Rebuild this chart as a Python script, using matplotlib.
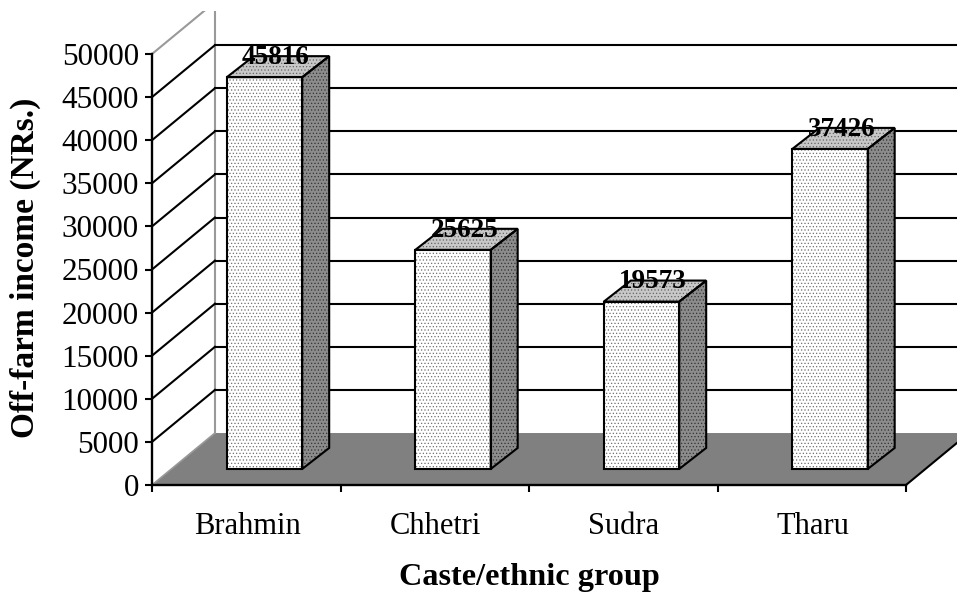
import matplotlib
matplotlib.use("Agg")
from matplotlib import pyplot as plt
from matplotlib.patches import Polygon, Rectangle

plt.rcParams["font.family"] = ["Liberation Serif", "DejaVu Serif"]
plt.rcParams["hatch.linewidth"] = 0.5

groups = ["Brahmin", "Chhetri", "Sudra", "Tharu"]
income = [45816, 25625, 19573, 37426]
y_ticks = list(range(0, 50001, 5000))

# oblique depth of the chart box and of each bar, in data units
BOX_DX = 0.334
BOX_DY = 6030
BAR_DX = 0.143
BAR_DY = 2440
BAR_LEFT = 0.397
BAR_WIDTH = 0.400
BAR_BASE = 1860
BAR_SCALE = 0.992
WIDE = 4.33

fig = plt.figure(figsize=(9.57, 5.94), dpi=100)
ax = fig.add_axes([152 / 957, 1 - 485 / 594, 754 / 957, 431 / 594])
ax.set_xlim(0, 4)
ax.set_ylim(0, 50000)
ax.patch.set_visible(False)

# everything above this level is left blank
top_clip = Rectangle((0, 0), 957, 594 - 11, transform=None)

def poly(points, **kw):
    p = Polygon(points, clip_on=False, **kw)
    ax.add_patch(p)
    return p

# floor
poly([(0, 0), (BOX_DX, BOX_DY), (WIDE, BOX_DY), (4, 0)], facecolor="#808080", edgecolor="none", zorder=1)
ax.plot([4, 4 + BOX_DX], [0, BOX_DY], color="black", lw=1.5, clip_on=False, zorder=2)
ax.plot([0, BOX_DX], [0, BOX_DY], color="#999999", lw=1.2, clip_on=False, zorder=2)

# back wall and gridlines
wall, = ax.plot([BOX_DX, BOX_DX], [BOX_DY, 50000 + BOX_DY], color="#999999", lw=1.5, clip_on=False, zorder=2)
wall.set_clip_path(top_clip)
wall.set_clip_on(True)
for v in y_ticks[1:]:
    color = "#999999" if v == 50000 else "black"
    side, = ax.plot([0, BOX_DX], [v, v + BOX_DY], color=color, lw=1.5, zorder=2)
    side.set_clip_path(top_clip)
    if v < 50000:
        ax.plot([BOX_DX, WIDE + 0.1], [v + BOX_DY, v + BOX_DY], color="black", lw=1.5, clip_on=False, zorder=2)

# bars: front, side and top faces
for i, value in enumerate(income):
    x0 = i + BAR_LEFT
    x1 = x0 + BAR_WIDTH
    y0 = BAR_BASE
    y1 = BAR_BASE + value * BAR_SCALE
    front = [(x0, y0), (x1, y0), (x1, y1), (x0, y1)]
    side = [(x1, y0), (x1 + BAR_DX, y0 + BAR_DY), (x1 + BAR_DX, y1 + BAR_DY), (x1, y1)]
    top = [(x0, y1), (x1, y1), (x1 + BAR_DX, y1 + BAR_DY), (x0 + BAR_DX, y1 + BAR_DY)]
    poly(front, facecolor="white", edgecolor="#707070", hatch=".....", lw=0, zorder=3)
    poly(side, facecolor="#8c8c8c", edgecolor="#333333", hatch=".....", lw=0, zorder=3)
    poly(top, facecolor="#c8c8c8", edgecolor="#666666", hatch=".....", lw=0, zorder=3)
    for face in (front, side, top):
        poly(face, fill=False, edgecolor="black", lw=1.5, joinstyle="miter", zorder=4)
    ax.text(x0 + BAR_WIDTH / 2 + BAR_DX / 2 - 0.012, y1 + BAR_DY * 0.5 + 1080, str(value), ha="center", va="center",
            fontsize=19.5, fontweight="bold", color="black", zorder=5)

ax.set_xticks(range(5))
ax.set_xticklabels([])
for i, name in enumerate(groups):
    ax.annotate(name, (i + 0.5, 0), xytext=(0.5, -35), xycoords="data", textcoords="offset points",
                ha="center", va="baseline", fontsize=22)
ax.set_yticks(y_ticks)
ax.tick_params(axis="both", direction="out", length=5, width=1.5, labelsize=22.4, pad=4.5)
for name in ("top", "right"):
    ax.spines[name].set_visible(False)
for name in ("left", "bottom"):
    ax.spines[name].set_linewidth(1.7)
    ax.spines[name].set_zorder(6)

fig.text(25 / 957, 1 - 268 / 594, "Off-farm income (NRs.)", rotation=90, ha="center", va="center",
         fontsize=24, fontweight="bold")
fig.text(529 / 957, 1 - 577 / 594, "Caste/ethnic group", ha="center", va="center",
         fontsize=23.2, fontweight="bold")

fig.savefig("out.png", dpi=100)
